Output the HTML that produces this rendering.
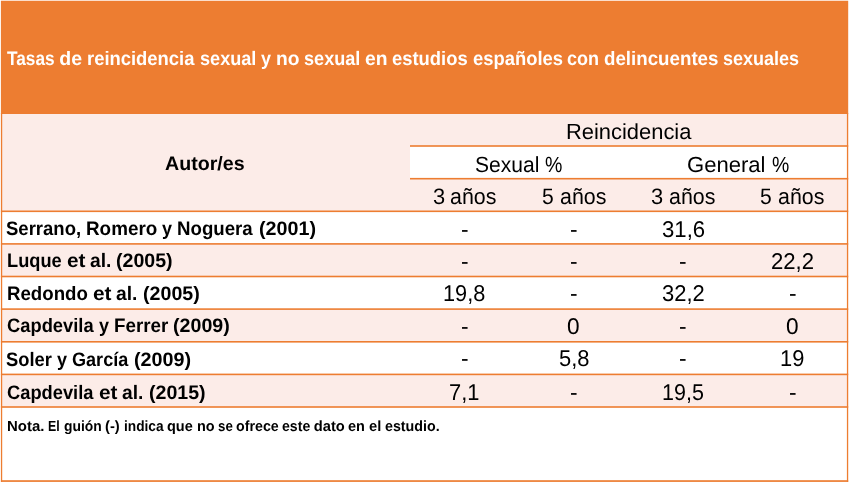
<!DOCTYPE html>
<html lang="es">
<head>
<meta charset="utf-8">
<title>Tasas de reincidencia sexual y no sexual</title>
<style>
html,body{margin:0;padding:0;background:#fff}
body{width:850px;height:484px;overflow:hidden;position:relative;font-family:"Liberation Sans", sans-serif;color:#000}
.slide{position:absolute;left:0;top:0;width:850px;height:484px;overflow:hidden}
.bg{position:absolute;left:0;top:0;display:block}
.t{position:absolute;white-space:nowrap;line-height:30px;height:30px;transform-origin:0 0;margin:0;padding:0;text-rendering:geometricPrecision}
.ws{left:0;width:850px}
.ws span{position:absolute;top:0;display:block;white-space:nowrap;transform-origin:0 0}
.b{font-weight:bold}
.title{color:#fff}
</style>
</head>
<body>
<div class="slide">
<svg class="bg" width="850" height="484" viewBox="0 0 850 484">
<rect x="0.9" y="0.75" width="847.3" height="113.25" fill="#ED7D31"/>
<rect x="0.9" y="114" width="847.3" height="97.3" fill="#FCECE8"/>
<rect x="410" y="146" width="438.2" height="32.7" fill="#fff"/>
<rect x="0.9" y="243.9" width="847.3" height="32.6" fill="#FCECE8"/>
<rect x="0.9" y="309.1" width="847.3" height="32.7" fill="#FCECE8"/>
<rect x="0.9" y="374.4" width="847.3" height="32.6" fill="#FCECE8"/>
<rect x="410" y="145.2" width="438.2" height="1.6" fill="#ED7D31"/>
<rect x="410" y="177.9" width="438.2" height="1.6" fill="#ED7D31"/>
<rect x="0.9" y="210.5" width="847.3" height="1.6" fill="#ED7D31"/>
<rect x="0.9" y="243.1" width="847.3" height="1.6" fill="#ED7D31"/>
<rect x="0.9" y="275.7" width="847.3" height="1.6" fill="#ED7D31"/>
<rect x="0.9" y="308.3" width="847.3" height="1.6" fill="#ED7D31"/>
<rect x="0.9" y="341" width="847.3" height="1.6" fill="#ED7D31"/>
<rect x="0.9" y="373.6" width="847.3" height="1.6" fill="#ED7D31"/>
<rect x="0.9" y="406.2" width="847.3" height="1.6" fill="#ED7D31"/>
<rect x="0.9" y="113" width="1.3" height="368.9" fill="#ED7D31"/>
<rect x="846.9" y="113" width="1.3" height="368.9" fill="#ED7D31"/>
<rect x="0.9" y="480.2" width="847.3" height="1.7" fill="#ED7D31"/>
</svg>
<div class="t b title ws" style="top:44px;font-size:19.5px"><span style="left:7.25px;transform:scaleX(0.885)">Tasas</span> <span style="left:59.33px;transform:scaleX(1.000)">de</span> <span style="left:86.74px;transform:scaleX(0.944)">reincidencia</span> <span style="left:199.83px;transform:scaleX(0.928)">sexual</span> <span style="left:261.2px;transform:scaleX(0.921)">y</span> <span style="left:276.08px;transform:scaleX(0.986)">no</span> <span style="left:304.05px;transform:scaleX(0.928)">sexual</span> <span style="left:365.15px;transform:scaleX(0.988)">en</span> <span style="left:392.45px;transform:scaleX(0.944)">estudios</span> <span style="left:472.56px;transform:scaleX(0.943)">españoles</span> <span style="left:566.94px;transform:scaleX(0.924)">con</span> <span style="left:603.83px;transform:scaleX(0.960)">delincuentes</span> <span style="left:722.68px;transform:scaleX(0.924)">sexuales</span></div>
<div class="t b th" style="left:165.49px;top:149px;font-size:19.5px;transform:scaleX(1.0064)">Autor/es</div>
<div class="t th" style="left:566.19px;top:117px;font-size:21.9px;transform:scaleX(1.0007)">Reincidencia</div>
<div class="t th ws" style="top:150px;font-size:21.9px"><span style="left:474.84px;transform:scaleX(0.961)">Sexual</span> <span style="left:544.99px;transform:scaleX(0.893)">%</span></div>
<div class="t th ws" style="top:150px;font-size:21.9px"><span style="left:687.46px;transform:scaleX(1.008)">General</span> <span style="left:771.69px;transform:scaleX(0.888)">%</span></div>
<div class="t th ws" style="top:182px;font-size:22.3px"><span style="left:432.64px;transform:scaleX(0.980)">3</span> <span style="left:450.4px;transform:scaleX(0.958)">años</span></div>
<div class="t th ws" style="top:182px;font-size:22.3px"><span style="left:541.77px;transform:scaleX(0.945)">5</span> <span style="left:559.5px;transform:scaleX(0.958)">años</span></div>
<div class="t th ws" style="top:182px;font-size:22.3px"><span style="left:651.14px;transform:scaleX(0.980)">3</span> <span style="left:668.9px;transform:scaleX(0.958)">años</span></div>
<div class="t th ws" style="top:182px;font-size:22.3px"><span style="left:760.27px;transform:scaleX(0.945)">5</span> <span style="left:778px;transform:scaleX(0.958)">años</span></div>
<div class="t b lab ws" style="top:214px;font-size:19.5px"><span style="left:6.01px;transform:scaleX(0.949)">Serrano,</span> <span style="left:85.88px;transform:scaleX(0.967)">Romero</span> <span style="left:161.91px;transform:scaleX(0.924)">y</span> <span style="left:176.89px;transform:scaleX(0.957)">Noguera</span> <span style="left:258.55px;transform:scaleX(1.011)">(2001)</span></div>
<div class="t val" style="left:460.96px;top:214px;font-size:22.8px;transform:scaleX(0.9990)">-</div>
<div class="t val" style="left:570.06px;top:214px;font-size:22.8px;transform:scaleX(0.9990)">-</div>
<div class="t val" style="left:661.74px;top:214px;font-size:22.8px;transform:scaleX(0.9718)">31,6</div>
<div class="t b lab ws" style="top:246px;font-size:19.5px"><span style="left:7.36px;transform:scaleX(0.935)">Luque</span> <span style="left:66.58px;transform:scaleX(1.066)">et</span> <span style="left:90.26px;transform:scaleX(0.985)">al.</span> <span style="left:116.48px;transform:scaleX(1.005)">(2005)</span></div>
<div class="t val" style="left:460.96px;top:246px;font-size:22.8px;transform:scaleX(0.9990)">-</div>
<div class="t val" style="left:570.06px;top:246px;font-size:22.8px;transform:scaleX(0.9990)">-</div>
<div class="t val" style="left:679.46px;top:246px;font-size:22.8px;transform:scaleX(0.9990)">-</div>
<div class="t val" style="left:770.68px;top:246px;font-size:22.8px;transform:scaleX(0.9711)">22,2</div>
<div class="t b lab ws" style="top:279px;font-size:19.5px"><span style="left:7.33px;transform:scaleX(0.957)">Redondo</span> <span style="left:92.57px;transform:scaleX(1.068)">et</span> <span style="left:116.3px;transform:scaleX(0.987)">al.</span> <span style="left:142.57px;transform:scaleX(1.007)">(2005)</span></div>
<div class="t val" style="left:443.33px;top:278px;font-size:22.8px;transform:scaleX(0.9523)">19,8</div>
<div class="t val" style="left:570.06px;top:278px;font-size:22.8px;transform:scaleX(0.9990)">-</div>
<div class="t val" style="left:661.94px;top:278px;font-size:22.8px;transform:scaleX(0.9630)">32,2</div>
<div class="t val" style="left:788.56px;top:278px;font-size:22.8px;transform:scaleX(0.9990)">-</div>
<div class="t b lab ws" style="top:311px;font-size:19.5px"><span style="left:6.73px;transform:scaleX(0.940)">Capdevila</span> <span style="left:99.23px;transform:scaleX(0.922)">y</span> <span style="left:114.16px;transform:scaleX(0.962)">Ferrer</span> <span style="left:173.33px;transform:scaleX(1.007)">(2009)</span></div>
<div class="t val" style="left:460.96px;top:311px;font-size:22.8px;transform:scaleX(0.9990)">-</div>
<div class="t val" style="left:567.42px;top:311px;font-size:22.8px;transform:scaleX(0.9951)">0</div>
<div class="t val" style="left:679.46px;top:311px;font-size:22.8px;transform:scaleX(0.9990)">-</div>
<div class="t val" style="left:785.92px;top:311px;font-size:22.8px;transform:scaleX(0.9951)">0</div>
<div class="t b lab ws" style="top:345px;font-size:19.5px"><span style="left:6.01px;transform:scaleX(0.940)">Soler</span> <span style="left:56.75px;transform:scaleX(0.927)">y</span> <span style="left:71.7px;transform:scaleX(0.927)">García</span> <span style="left:133.98px;transform:scaleX(1.014)">(2009)</span></div>
<div class="t val" style="left:460.96px;top:343px;font-size:22.8px;transform:scaleX(0.9990)">-</div>
<div class="t val" style="left:558.67px;top:343px;font-size:22.8px;transform:scaleX(0.9612)">5,8</div>
<div class="t val" style="left:679.46px;top:343px;font-size:22.8px;transform:scaleX(0.9990)">-</div>
<div class="t val" style="left:779.88px;top:343px;font-size:22.8px;transform:scaleX(0.9602)">19</div>
<div class="t b lab ws" style="top:378px;font-size:19.5px"><span style="left:6.73px;transform:scaleX(0.938)">Capdevila</span> <span style="left:98.72px;transform:scaleX(1.067)">et</span> <span style="left:122.41px;transform:scaleX(0.986)">al.</span> <span style="left:148.65px;transform:scaleX(1.005)">(2015)</span></div>
<div class="t val" style="left:449.42px;top:377px;font-size:22.8px;transform:scaleX(0.9600)">7,1</div>
<div class="t val" style="left:570.06px;top:377px;font-size:22.8px;transform:scaleX(0.9990)">-</div>
<div class="t val" style="left:662.03px;top:377px;font-size:22.8px;transform:scaleX(0.9433)">19,5</div>
<div class="t val" style="left:788.56px;top:377px;font-size:22.8px;transform:scaleX(0.9990)">-</div>
<div class="t b note ws" style="top:412px;font-size:14.7px"><span style="left:7.26px;transform:scaleX(1.019)">Nota.</span> <span style="left:48.25px;transform:scaleX(0.841)">El</span> <span style="left:63.63px;transform:scaleX(0.944)">guión</span> <span style="left:105.3px;transform:scaleX(1.006)">(-)</span> <span style="left:123.6px;transform:scaleX(0.933)">indica</span> <span style="left:167.44px;transform:scaleX(0.987)">que</span> <span style="left:196.71px;transform:scaleX(0.984)">no</span> <span style="left:217.75px;transform:scaleX(0.905)">se</span> <span style="left:236.01px;transform:scaleX(0.969)">ofrece</span> <span style="left:282.18px;transform:scaleX(0.960)">este</span> <span style="left:313.84px;transform:scaleX(1.000)">dato</span> <span style="left:348.21px;transform:scaleX(0.985)">en</span> <span style="left:368.72px;transform:scaleX(1.001)">el</span> <span style="left:384.53px;transform:scaleX(0.971)">estudio.</span></div>
</div>
</body>
</html>
